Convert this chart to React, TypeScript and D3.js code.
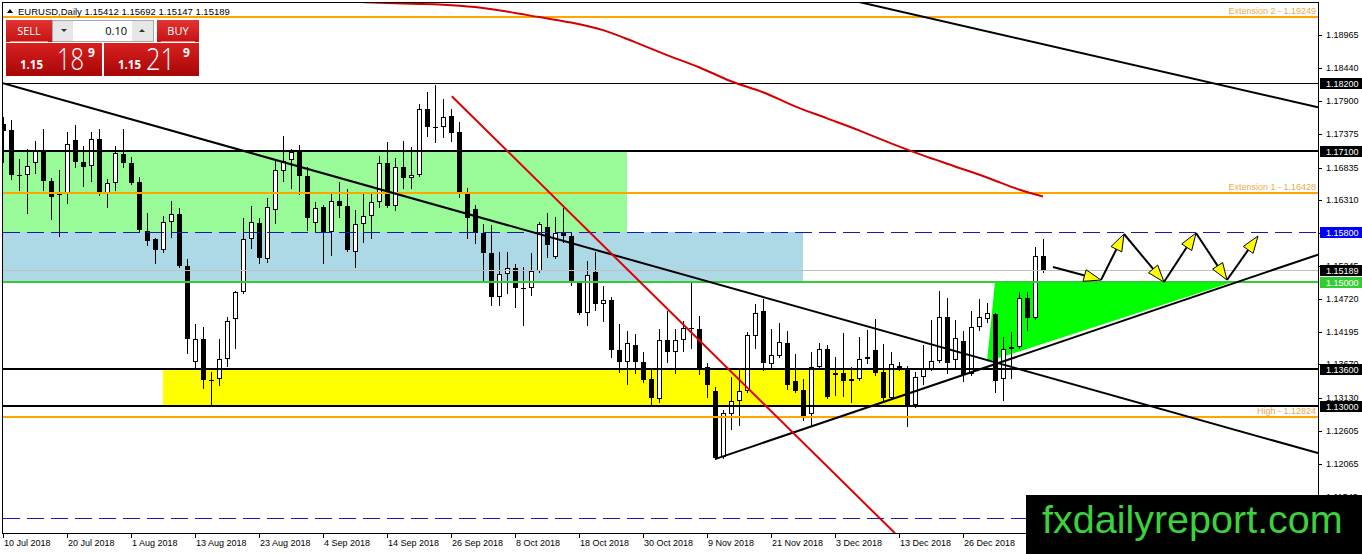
import * as d3 from "d3";

const W = 1362;
const H = 554;
const plot = { left: 3, right: 1318, top: 2, bottom: 533 };

// EURUSD daily candles, bar 0 = 10 Jul 2018
const open = [
  1.1753, 1.17433, 1.16708, 1.16708, 1.16901, 1.17111, 1.16611, 1.16418, 1.16418, 1.17272,
  1.16917, 1.16853, 1.17288, 1.16418, 1.16579, 1.17046, 1.16901, 1.16595, 1.15821, 1.15692,
  1.15515, 1.15966, 1.16095, 1.15257, 1.1371, 1.1408, 1.13419, 1.13436, 1.13758, 1.14403,
  1.14838, 1.15692, 1.1595, 1.1537, 1.1616, 1.16772, 1.1695, 1.17079, 1.16692, 1.1595,
  1.16208, 1.15805, 1.16305, 1.16224, 1.15483, 1.15934, 1.16063, 1.16273, 1.16901, 1.16224,
  1.16837, 1.1666, 1.16708, 1.17772, 1.17482, 1.17482, 1.17659, 1.17401, 1.16402, 1.16176,
  1.15789, 1.15467, 1.14757, 1.15128, 1.15225, 1.14902, 1.14902, 1.15176, 1.15886, 1.15402,
  1.15789, 1.15741, 1.14983, 1.14499, 1.1516, 1.14645, 1.14709, 1.13903, 1.1371, 1.13984,
  1.1371, 1.13436, 1.13113, 1.14064, 1.13871, 1.14064, 1.14258, 1.14242, 1.13629, 1.13242,
  1.12178, 1.12871, 1.13081, 1.13242, 1.14129, 1.14532, 1.13677, 1.13806, 1.14016, 1.13403,
  1.13258, 1.12871, 1.13629, 1.13919, 1.135, 1.13532, 1.13403, 1.13436, 1.13758, 1.13903,
  1.13548, 1.13129, 1.13645, 1.13597, 1.13016, 1.13468, 1.13597, 1.13726, 1.14435, 1.13742,
  1.14048, 1.13516, 1.14274, 1.14403, 1.14483, 1.13436, 1.13919, 1.13951, 1.14741, 1.14419,
  1.15412,
];
const high = [
  1.17643, 1.17594, 1.16966, 1.17127, 1.17256, 1.17449, 1.1666, 1.16789, 1.17401, 1.17514,
  1.17175, 1.17401, 1.17449, 1.16643, 1.17175, 1.17449, 1.16998, 1.16676, 1.16111, 1.15708,
  1.16063, 1.16289, 1.16192, 1.1537, 1.14322, 1.14274, 1.13548, 1.1408, 1.14435, 1.14854,
  1.16031, 1.16224, 1.16031, 1.16353, 1.16934, 1.17337, 1.17127, 1.17191, 1.16837, 1.16273,
  1.1624, 1.16402, 1.16595, 1.16498, 1.1616, 1.16434, 1.16434, 1.17014, 1.1724, 1.16982,
  1.17256, 1.17159, 1.17852, 1.18046, 1.18159, 1.17933, 1.17772, 1.17562, 1.16514, 1.1624,
  1.15934, 1.15918, 1.15483, 1.15483, 1.15289, 1.15241, 1.15467, 1.15966, 1.16111, 1.16047,
  1.16192, 1.15789, 1.14999, 1.15338, 1.15483, 1.14935, 1.14757, 1.14322, 1.14209, 1.14161,
  1.13871, 1.13597, 1.14242, 1.14532, 1.14242, 1.14371, 1.14999, 1.14451, 1.13693, 1.13307,
  1.12936, 1.13468, 1.13581, 1.14193, 1.14645, 1.14725, 1.14242, 1.14338, 1.14209, 1.13839,
  1.13436, 1.13871, 1.14016, 1.13984, 1.1379, 1.14177, 1.13629, 1.14113, 1.14225, 1.14403,
  1.14, 1.13871, 1.1371, 1.13645, 1.13548, 1.13984, 1.14387, 1.14854, 1.14741, 1.14387,
  1.14209, 1.14532, 1.14725, 1.14661, 1.14499, 1.14113, 1.14193, 1.14838, 1.14838, 1.15563,
  1.15692,
];
const low = [
  1.16917, 1.16643, 1.16482, 1.16111, 1.1674, 1.16482, 1.16015, 1.15741, 1.16257, 1.16837,
  1.16531, 1.16611, 1.16386, 1.16208, 1.16482, 1.16837, 1.16563, 1.15821, 1.15596, 1.15305,
  1.15483, 1.15725, 1.15241, 1.13855, 1.13629, 1.1329, 1.13016, 1.13339, 1.13645, 1.13935,
  1.14822, 1.15547, 1.15305, 1.15322, 1.1595, 1.16611, 1.16514, 1.16402, 1.15837, 1.15805,
  1.15305, 1.15434, 1.16047, 1.15499, 1.15241, 1.15644, 1.15708, 1.16208, 1.16208, 1.1616,
  1.16514, 1.16514, 1.16692, 1.17337, 1.1724, 1.1732, 1.17256, 1.16369, 1.15708, 1.15628,
  1.15031, 1.14628, 1.14628, 1.14822, 1.14596, 1.14306, 1.1479, 1.1516, 1.15402, 1.15386,
  1.15644, 1.14951, 1.14483, 1.14306, 1.14548, 1.14371, 1.1379, 1.13548, 1.13355, 1.13532,
  1.13387, 1.13016, 1.13065, 1.1371, 1.13532, 1.13887, 1.13935, 1.13516, 1.13145, 1.12146,
  1.12162, 1.1263, 1.12694, 1.13226, 1.13935, 1.13581, 1.13629, 1.1379, 1.13274, 1.13226,
  1.12775, 1.12678, 1.13613, 1.13129, 1.13178, 1.13162, 1.13065, 1.13419, 1.13693, 1.135,
  1.13097, 1.13113, 1.13581, 1.12678, 1.12984, 1.13355, 1.13581, 1.1371, 1.13532, 1.13613,
  1.13403, 1.135, 1.14225, 1.14354, 1.13226, 1.13097, 1.13452, 1.13935, 1.14225, 1.14403,
  1.15147,
];
const close = [
  1.17417, 1.16708, 1.16692, 1.16853, 1.17111, 1.16611, 1.16369, 1.16386, 1.17208, 1.16917,
  1.16837, 1.17288, 1.16418, 1.16579, 1.17063, 1.16901, 1.16579, 1.15837, 1.1566, 1.15515,
  1.15966, 1.16095, 1.15257, 1.1408, 1.1408, 1.13419, 1.13403, 1.13758, 1.14371, 1.14838,
  1.15692, 1.15966, 1.15386, 1.16208, 1.16789, 1.16934, 1.17079, 1.16692, 1.16031, 1.16192,
  1.15805, 1.16305, 1.16224, 1.15515, 1.15934, 1.16063, 1.16273, 1.16901, 1.16224, 1.16837,
  1.1666, 1.16708, 1.17772, 1.17482, 1.17465, 1.17643, 1.17385, 1.16402, 1.16031, 1.15789,
  1.15467, 1.14757, 1.15128, 1.15225, 1.14902, 1.1489, 1.15176, 1.15934, 1.15596, 1.15789,
  1.15741, 1.15015, 1.14499, 1.15112, 1.14645, 1.14709, 1.13903, 1.1371, 1.14016, 1.1371,
  1.13419, 1.13129, 1.14064, 1.13871, 1.14064, 1.14258, 1.14242, 1.13613, 1.13339, 1.12162,
  1.12887, 1.13081, 1.13242, 1.14145, 1.14499, 1.13693, 1.13822, 1.14032, 1.13339, 1.13242,
  1.12839, 1.13629, 1.13919, 1.13145, 1.13532, 1.13403, 1.13436, 1.13758, 1.1379, 1.13532,
  1.13129, 1.13677, 1.13597, 1.13016, 1.13468, 1.13597, 1.13726, 1.14435, 1.13693, 1.14096,
  1.135, 1.14274, 1.14435, 1.14499, 1.13403, 1.13919, 1.13951, 1.14741, 1.14419, 1.15418,
  1.15189,
];

// red moving average (read every 4 bars)
const maBar = [43, 47, 51, 55, 59, 63, 67, 71, 75, 79, 83, 87, 91, 95, 99, 103, 107, 111, 115, 119, 123, 127, 130];
const maValue = [
  1.19508, 1.19484, 1.19468, 1.19455, 1.19416, 1.19344, 1.19255, 1.19167, 1.19046, 1.18852, 1.18643, 1.18449,
  1.18223, 1.18046, 1.1782, 1.17627, 1.17433, 1.17224, 1.1703, 1.16853, 1.16676, 1.16482, 1.16369,
];

const dateBar = [0, 8, 16, 24, 32, 40, 48, 56, 64, 72, 80, 88, 96, 104, 112, 120];
const dateLabels = [
  "10 Jul 2018", "20 Jul 2018", "1 Aug 2018", "13 Aug 2018", "23 Aug 2018", "4 Sep 2018",
  "14 Sep 2018", "26 Sep 2018", "8 Oct 2018", "18 Oct 2018", "30 Oct 2018", "9 Nov 2018",
  "21 Nov 2018", "3 Dec 2018", "13 Dec 2018", "26 Dec 2018",
];

const priceTicks = [
  1.18965, 1.1844, 1.179, 1.17375, 1.16835, 1.1631, 1.15785, 1.15245, 1.1472, 1.14195, 1.1367,
  1.1313, 1.12605, 1.12065, 1.1154,
];

// horizontal levels
const extensionLevels = [1.19249, 1.16428, 1.12824];
const extensionNames = ["Extension 2 - 1.19249", "Extension 1 - 1.16428", "High - 1.12824"];
const blackLevels = [1.182, 1.171, 1.136, 1.13];
const blackWidths = [1, 2, 2, 2];
const dashedLevels = [1.158, 1.112];
const supportLevel = 1.15;
const bidPrice = 1.15189;

// zones: [fromBar, toBar, priceHigh, priceLow]
const zones: [number, number, number, number, string][] = [
  [-1, 78, 1.171, 1.158, "#98fb98"],
  [-1, 100, 1.158, 1.15, "#add8e6"],
  [20, 113, 1.136, 1.13, "#ffff00"],
];
const wedge: [number, number][] = [
  [123, 1.1371],
  [124, 1.15],
  [153.8, 1.15],
];

// trendlines: [bar1, price1, bar2, price2, colour, width]
const trendLines: [number, number, number, number, string, number][] = [
  [0, 1.18191, 164.375, 1.12242, "#000", 2],
  [105.4, 1.19545, 164.375, 1.17804, "#000", 2],
  [89, 1.12146, 164.375, 1.15434, "#000", 2],
  [56.1, 1.17981, 111.5, 1.10953, "#dd0000", 2],
];

// projected zigzag
const pathBar = [131.25, 137.25, 140.125, 145.125, 149.125, 153, 156.875];
const pathPrice = [1.15236, 1.15026, 1.15766, 1.14994, 1.15782, 1.15026, 1.15734];

const axisFont = "'Liberation Sans', Arial, sans-serif";

export default function App() {
  const x = d3.scaleLinear().domain([0, 164.375]).range([plot.left, plot.right]);
  const y = d3.scaleLinear().domain([1.10957, 1.1953]).range([plot.bottom, 0]);
  const cx = (i: number) => Math.round(x(i));
  const ry = (p: number) => Math.round(y(p));

  const maLine = d3
    .line<number>()
    .x((_, k) => x(maBar[k]))
    .y((v) => y(v))
    .curve(d3.curveCatmullRom)(maValue);

  const wedgePath = d3.line<[number, number]>().x((d) => x(d[0])).y((d) => y(d[1]))(wedge) + "Z";

  const arrows = pathBar.slice(1).map((b, k) => {
    const x0 = x(pathBar[k]);
    const y0 = y(pathPrice[k]);
    const x1 = x(b);
    const y1 = y(pathPrice[k + 1]);
    const len = Math.hypot(x1 - x0, y1 - y0);
    const ux = (x1 - x0) / len;
    const uy = (y1 - y0) / len;
    const bx = x1 - ux * 17;
    const by = y1 - uy * 17;
    const head = `${x1},${y1} ${bx - uy * 6},${by + ux * 6} ${bx + uy * 6},${by - ux * 6}`;
    return { x0, y0, bx, by, head };
  });

  const boxes: [number, string][] = [
    [1.182, "#000"],
    [1.171, "#000"],
    [1.158, "#0000ff"],
    [1.15, "#32cd32"],
    [bidPrice, "#000"],
    [1.136, "#000"],
    [1.13, "#000"],
  ];

  return (
    <svg
      width={W}
      height={H}
      style={{ position: "absolute", left: 0, top: 0, background: "#fff" }}
      fontFamily={axisFont}
    >
      <defs>
        <clipPath id="plot">
          <rect x={plot.left} y={plot.top} width={plot.right - plot.left} height={plot.bottom - plot.top} />
        </clipPath>
        <linearGradient id="redBtn" x1="0" y1="0" x2="0" y2="1">
          <stop offset="0" stopColor="#e23434" />
          <stop offset="1" stopColor="#c41212" />
        </linearGradient>
        <linearGradient id="redBig" x1="0" y1="0" x2="0" y2="1">
          <stop offset="0" stopColor="#d82020" />
          <stop offset="1" stopColor="#a80606" />
        </linearGradient>
      </defs>

      <g clipPath="url(#plot)">
        {zones.map(([b0, b1, p0, p1, c], k) => (
          <rect key={k} x={cx(b0)} y={ry(p0)} width={cx(b1) - cx(b0)} height={ry(p1) - ry(p0)} fill={c} />
        ))}
        <path d={wedgePath} fill="#00ff00" />

        {open.map((o, i) => {
          const c = close[i];
          const xc = cx(i);
          const top = ry(Math.max(o, c));
          const bot = Math.max(ry(Math.min(o, c)), top + 1);
          const bull = c >= o;
          return (
            <g key={i}>
              <line x1={xc + 0.5} x2={xc + 0.5} y1={ry(high[i])} y2={ry(low[i]) + 1} stroke="#000" />
              {bull ? (
                <rect x={xc - 1.5} y={top + 0.5} width={4} height={Math.max(bot - top - 1, 0)} fill="#fff" stroke="#000" />
              ) : (
                <rect x={xc - 2} y={top} width={5} height={bot - top} fill="#000" />
              )}
            </g>
          );
        })}

        {blackLevels.map((p, k) => (
          <line key={k} x1={plot.left} x2={plot.right} y1={ry(p) + (blackWidths[k] === 1 ? 0.5 : 0)} y2={ry(p) + (blackWidths[k] === 1 ? 0.5 : 0)} stroke="#000" strokeWidth={blackWidths[k]} />
        ))}
        {extensionLevels.map((p, k) => (
          <g key={k}>
            <line x1={plot.left} x2={plot.right} y1={ry(p)} y2={ry(p)} stroke="#ffa500" strokeWidth={2} />
            <text x={1316} y={ry(p) - 3} textAnchor="end" fontSize={9} fill="#f0a848">
              {extensionNames[k]}
            </text>
          </g>
        ))}
        {dashedLevels.map((p, k) => (
          <line key={k} x1={plot.left} x2={plot.right} y1={ry(p) + 0.5} y2={ry(p) + 0.5} stroke="#1a1aa8" strokeDasharray="17 7" />
        ))}
        <line x1={plot.left} x2={plot.right} y1={ry(bidPrice) + 0.5} y2={ry(bidPrice) + 0.5} stroke="#c0c0c0" />
        <line x1={plot.left} x2={plot.right} y1={ry(supportLevel)} y2={ry(supportLevel)} stroke="#32cd32" strokeWidth={2} />

        <path d={maLine ?? ""} fill="none" stroke="#d40000" strokeWidth={2} />
        {trendLines.map(([b0, p0, b1, p1, c, w], k) => (
          <line key={k} x1={x(b0)} y1={y(p0)} x2={x(b1)} y2={y(p1)} stroke={c} strokeWidth={w} />
        ))}

        {arrows.map((a, k) => (
          <g key={k}>
            <line x1={a.x0} y1={a.y0} x2={a.bx} y2={a.by} stroke="#000" strokeWidth={2} />
            <polygon points={a.head} fill="#ffff00" stroke="#000" strokeWidth={1} />
          </g>
        ))}
      </g>

      {/* frame */}
      <rect x={plot.left - 0.5} y={plot.top + 0.5} width={plot.right - plot.left + 1} height={plot.bottom - plot.top} fill="none" stroke="#000" />

      {/* price axis */}
      {priceTicks.map((p) => (
        <g key={p}>
          <line x1={plot.right} x2={plot.right + 4} y1={ry(p) + 0.5} y2={ry(p) + 0.5} stroke="#000" />
          <text x={1326} y={ry(p)} dy="0.35em" fontSize={9} fill="#000">
            {p.toFixed(5)}
          </text>
        </g>
      ))}
      {boxes.map(([p, c]) => (
        <g key={p}>
          <rect x={1320} y={ry(p) - 5} width={42} height={11} fill={c} />
          <text x={1326} y={ry(p) + 0.5} dy="0.35em" fontSize={9} fill="#fff">
            {p.toFixed(5)}
          </text>
        </g>
      ))}

      {/* time axis */}
      {dateBar.map((b, k) => (
        <g key={b}>
          <line x1={cx(b) + 0.5} x2={cx(b) + 0.5} y1={plot.bottom} y2={plot.bottom + 5} stroke="#000" />
          <text x={cx(b) + 1} y={546} fontSize={9} fill="#000">
            {dateLabels[k]}
          </text>
        </g>
      ))}

      {/* header */}
      <polygon points="7,13 13,13 10,9" fill="#000" />
      <text x={18} y={15} fontSize={9.5} fill="#000">
        EURUSD,Daily  1.15412 1.15692 1.15147 1.15189
      </text>

      {/* one click trading panel */}
      <g fontFamily="'Open Sans', 'Noto Sans', sans-serif">
        <rect x={6} y={20} width={46} height={22} fill="url(#redBtn)" />
        <line x1={10} x2={48} y1={41.5} y2={41.5} stroke="#f08080" />
        <text x={29} y={35} textAnchor="middle" fontSize={11} fill="#fff">SELL</text>
        <rect x={157} y={20} width={42} height={22} fill="url(#redBtn)" />
        <line x1={161} x2={195} y1={41.5} y2={41.5} stroke="#f08080" />
        <text x={178} y={35} textAnchor="middle" fontSize={11} fill="#fff">BUY</text>

        <rect x={52.5} y={20.5} width={101} height={21} fill="#fff" stroke="#a8a8a8" />
        <rect x={53} y={21} width={20} height={20} fill="#e6e6e6" />
        <rect x={132} y={21} width={21} height={20} fill="#e6e6e6" />
        <polygon points="61,29 67,29 64,32" fill="#333" />
        <polygon points="139,32 145,32 142,29" fill="#333" />
        <text x={127} y={35} textAnchor="end" fontSize={11} fill="#000">0.10</text>

        <rect x={6} y={43} width={96} height={33} fill="url(#redBig)" />
        <rect x={104} y={43} width={95} height={33} fill="url(#redBig)" />
        <text x={20} y={69} fontSize={11.5} fontWeight="bold" fill="#fff">1.15</text>
        <text x={57} y={70} fontSize={32} fontWeight={300} fill="#fff" textLength={27} lengthAdjust="spacingAndGlyphs">18</text>
        <text x={88} y={57} fontSize={12} fontWeight="bold" fill="#fff">9</text>
        <text x={118} y={69} fontSize={11.5} fontWeight="bold" fill="#fff">1.15</text>
        <text x={146} y={70} fontSize={32} fontWeight={300} fill="#fff" textLength={29} lengthAdjust="spacingAndGlyphs">21</text>
        <text x={183} y={57} fontSize={12} fontWeight="bold" fill="#fff">9</text>
      </g>

      {/* watermark */}
      <rect x={1026} y={495} width={W - 1026} height={H - 495} fill="#000" />
      <text x={1042} y={533} fontSize={39.5} fill="#3cd23c" fontFamily={axisFont}>
        fxdailyreport.com
      </text>
    </svg>
  );
}
